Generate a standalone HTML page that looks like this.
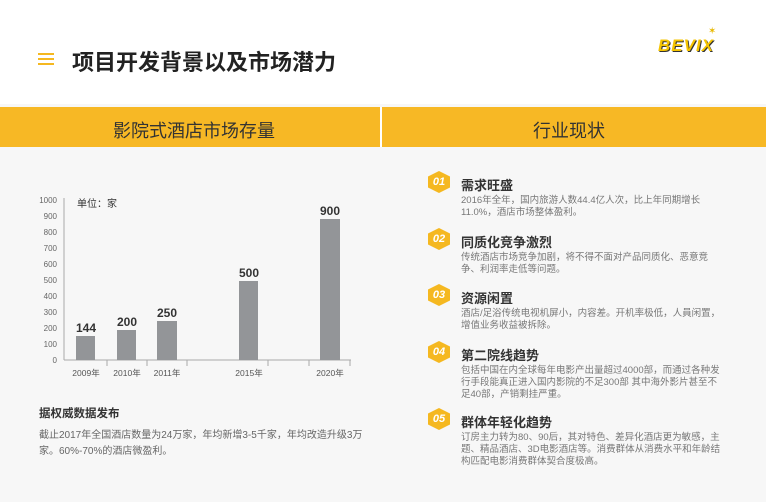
<!DOCTYPE html><html><head><meta charset="utf-8"><style>
body{margin:0;width:766px;height:502px;background:#f7f7f7;font-family:"Liberation Sans","Noto Sans CJK SC",sans-serif;position:relative;overflow:hidden}
.abs{position:absolute}
.top{left:0;top:0;width:766px;height:104px;background:#fff}
.band{left:0;top:107px;width:766px;height:40px;background:#f7b825}
.h{font-size:18px;color:#333;top:117px}
.it{left:428px;width:300px;height:60px}
.hex{position:absolute;width:22px;height:22px;background:#f5b820;clip-path:polygon(50% 0,100% 25%,100% 75%,50% 100%,0 75%,0 25%);color:#fff;font-size:11px;font-weight:bold;font-style:italic;text-align:center;line-height:22px}
.tt{position:absolute;left:33px;font-size:13px;font-weight:bold;color:#333;white-space:nowrap}
.tx{position:absolute;left:33px;width:260px;font-size:9.5px;line-height:12px;color:#777}
</style></head><body>
<div class="abs top"></div>
<div class="abs" style="left:38px;top:53px;width:16px;height:2px;background:#f5b820;box-shadow:0 5px 0 #f5b820,0 10px 0 #f5b820"></div>
<div class="abs" style="left:72px;top:45px;font-size:22px;font-weight:bold;color:#222">项目开发背景以及市场潜力</div>
<div class="abs" style="left:658px;top:36px;font-size:17px;font-weight:900;font-style:italic;color:#f5c400;text-shadow:1px 1px 0 #333;letter-spacing:1px">BEVIX</div>
<div class="abs" style="left:708px;top:26px;color:#e8b800;font-size:10px">✶</div>
<div class="abs band"></div>
<div class="abs" style="left:380px;top:107px;width:2px;height:40px;background:#fff"></div>
<div class="abs h" style="left:113px">影院式酒店市场存量</div>
<div class="abs h" style="left:533px">行业现状</div>
<svg class="abs" style="left:0;top:190px" width="380" height="200" font-family="Liberation Sans" >
<g font-size="8" fill="#666" text-anchor="end">
<text x="57" y="13">1000</text><text x="57" y="29">900</text><text x="57" y="45">800</text><text x="57" y="61">700</text><text x="57" y="77">600</text><text x="57" y="93">500</text><text x="57" y="109">400</text><text x="57" y="125">300</text><text x="57" y="141">200</text><text x="57" y="157">100</text><text x="57" y="173">0</text>
</g>
<line x1="64" y1="8" x2="64" y2="170" stroke="#aaa"/>
<line x1="64" y1="170" x2="351" y2="170" stroke="#aaa"/>
<g stroke="#aaa"><line x1="107" y1="170" x2="107" y2="176"/><line x1="147" y1="170" x2="147" y2="176"/><line x1="187" y1="170" x2="187" y2="176"/><line x1="268" y1="170" x2="268" y2="176"/><line x1="309" y1="170" x2="309" y2="176"/><line x1="350" y1="170" x2="350" y2="176"/></g>
<g fill="#939598"><rect x="76" y="146" width="19" height="24"/><rect x="117" y="140" width="19" height="30"/><rect x="157" y="131" width="20" height="39"/><rect x="239" y="91" width="19" height="79"/><rect x="320" y="29" width="20" height="141"/></g>
<g font-size="12" font-weight="bold" fill="#333" text-anchor="middle"><text x="86" y="142">144</text><text x="127" y="136">200</text><text x="167" y="127">250</text><text x="249" y="87">500</text><text x="330" y="25">900</text></g>
<g font-size="8.5" fill="#555" text-anchor="middle" font-family="Liberation Sans,Noto Sans CJK SC"><text x="86" y="186">2009年</text><text x="127" y="186">2010年</text><text x="167" y="186">2011年</text><text x="249" y="186">2015年</text><text x="330" y="186">2020年</text></g>
<text x="77" y="17" font-size="10" fill="#333" font-family="Liberation Sans,Noto Sans CJK SC">单位：家</text>
</svg>
<div class="abs" style="left:39px;top:405px;font-size:11.5px;font-weight:bold;color:#333">据权威数据发布</div>
<div class="abs" style="left:39px;top:428px;width:330px;font-size:10px;line-height:16px;color:#666">截止2017年全国酒店数量为24万家，年均新增3-5千家，年均改造升级3万家。60%-70%的酒店微盈利。</div>
<div class="abs it" style="top:171px"><div class="hex">01</div><div class="tt" style="top:4px">需求旺盛</div><div class="tx" style="top:24px">2016年全年，国内旅游人数44.4亿人次，比上年同期增长11.0%，酒店市场整体盈利。</div></div>
<div class="abs it" style="top:228px"><div class="hex">02</div><div class="tt" style="top:4px">同质化竞争激烈</div><div class="tx" style="top:24px">传统酒店市场竞争加剧，将不得不面对产品同质化、恶意竞争、利润率走低等问题。</div></div>
<div class="abs it" style="top:284px"><div class="hex">03</div><div class="tt" style="top:4px">资源闲置</div><div class="tx" style="top:24px">酒店/足浴传统电视机屏小，内容差。开机率极低，人員闲置，增值业务收益被拆除。</div></div>
<div class="abs it" style="top:341px"><div class="hex">04</div><div class="tt" style="top:4px">第二院线趋势</div><div class="tx" style="top:24px">包括中国在内全球每年电影产出量超过4000部，而通过各种发行手段能真正进入国内影院的不足300部 其中海外影片甚至不足40部，产销剩挂严重。</div></div>
<div class="abs it" style="top:408px"><div class="hex">05</div><div class="tt" style="top:4px">群体年轻化趋势</div><div class="tx" style="top:24px">订房主力转为80、90后，其对特色、差异化酒店更为敏感，主题、精品酒店、3D电影酒店等。消费群体从消费水平和年龄结构匹配电影消费群体契合度极高。</div></div>
</body></html>
